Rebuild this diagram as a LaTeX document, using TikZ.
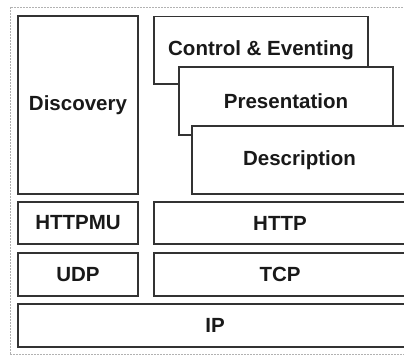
\documentclass[tikz,border=0pt]{standalone}
\usepackage{fontspec}
\setmainfont{Liberation Sans}
\begin{document}
\begin{tikzpicture}[x=1pt,y=1pt,
  layer/.style={draw=black!80, line width=1.1pt, fill=white, inner sep=0pt,
    font=\bfseries\fontsize{20.5}{24}\selectfont, text=black!90},
  frame/.style={draw=black!30, line width=0.6pt, dash pattern=on 2pt off 1pt}]
\useasboundingbox (0,0) rectangle (404,356);
\clip (0,0) rectangle (404,356);
\draw[frame] (10,2) rectangle (420,349);
\node[layer, minimum width=120, minimum height=178] (disc) at (78,251) {Discovery};
\node[layer, minimum width=214, minimum height=67.5] (ctrl) at (261,305.75) {Control \& Eventing};
\node[layer, minimum width=214, minimum height=68] (pres) at (286,255) {Presentation};
\node[layer, minimum width=215, minimum height=68] (desc) at (299.5,196) {Description};
\node[layer, minimum width=120, minimum height=42] (httpmu) at (78,133) {HTTPMU};
\node[layer, minimum width=252, minimum height=42] (http) at (280,133) {HTTP};
\node[layer, minimum width=120, minimum height=43] (udp) at (78,81.5) {UDP};
\node[layer, minimum width=252, minimum height=43] (tcp) at (280,81.5) {TCP};
\node[layer, minimum width=394, minimum height=43] (ip) at (215,30.5) {IP};
\end{tikzpicture}
\end{document}
